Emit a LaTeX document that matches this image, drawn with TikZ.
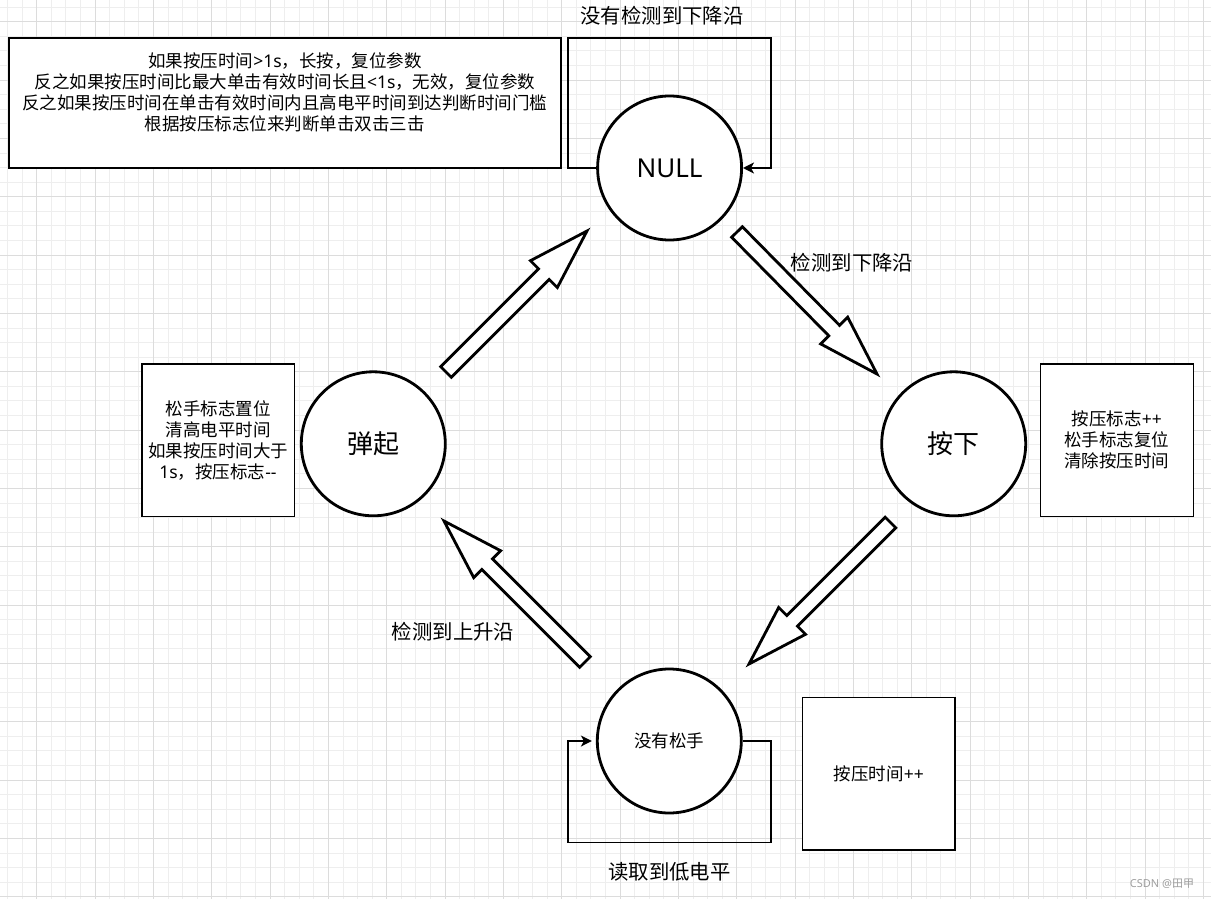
\documentclass[tikz,border=0pt]{standalone}
\usepackage{fontspec}
\setmainfont{Noto Sans CJK SC}
\newfontfamily\latf{Noto Sans}
\newcommand\lt[1]{{\latf #1}}
\usetikzlibrary{calc,arrows.meta}
\definecolor{gridminor}{HTML}{EEEEEE}
\definecolor{gridmajor}{HTML}{DCDCDC}
\newcommand\blockarrow[2]{%
  \coordinate (#1s) at ($(#2)!61pt!(#1)$);
  \draw[blk] ($(#1)!7.5pt!90:(#2)$) -- ($(#1s)!7.5pt!90:(#2)$) -- ($(#1s)!19pt!90:(#2)$) -- (#2)
    -- ($(#1s)!19pt!-90:(#2)$) -- ($(#1s)!7.5pt!-90:(#2)$) -- ($(#1)!7.5pt!-90:(#2)$) -- cycle;}
\begin{document}
\begin{tikzpicture}[x=1pt,y=-1pt,
  state/.style={circle,draw,line width=2.8pt,fill=white,minimum size=144pt,inner sep=0pt},
  note/.style={rectangle,draw,line width=1.5pt,fill=white,inner sep=0pt},
  small/.style={font=\fontsize{17.5}{21}\selectfont,align=center},
  lbl/.style={font=\fontsize{20.4}{24}\selectfont},
  big/.style={font=\fontsize{26}{31}\selectfont},
  conn/.style={line width=1.6pt,line join=miter,-{Stealth[length=11pt,width=11pt,inset=3pt]}},
  blk/.style={draw,line width=2.8pt,fill=white,line join=miter}]
\useasboundingbox (0,0) rectangle (1211,899);
\fill[white] (0,0) rectangle (1211,899);
% grid
\foreach \i in {-3,...,82} {\pgfmathsetmacro\gx{36.67+\i*14.5833}
  \draw[gridminor,line width=0.8pt] (\gx,0) -- (\gx,899);}
\foreach \i in {-2,...,61} {\pgfmathsetmacro\gy{21.67+\i*14.5833}
  \draw[gridminor,line width=0.8pt] (0,\gy) -- (1211,\gy);}
\foreach \i in {-1,...,20} {\pgfmathsetmacro\gx{36.67+\i*58.333}
  \draw[gridmajor,line width=0.8pt] (\gx,0) -- (\gx,899);}
\foreach \i in {-1,...,15} {\pgfmathsetmacro\gy{21.67+\i*58.333}
  \draw[gridmajor,line width=0.8pt] (0,\gy) -- (1211,\gy);}

% notes
\node[note,minimum width=552pt,minimum height=130pt] (topnote) at (285,103) {};
\node[small] (topnotetext) at (285,92.5) {如果按压时间\lt{>1s}，长按，复位参数\\反之如果按压时间比最大单击有效时间长且\lt{<1s}，无效，复位参数\\反之如果按压时间在单击有效时间内且高电平时间到达判断时间门槛\\根据按压标志位来判断单击双击三击};
\node[note,small,minimum width=152.5pt,minimum height=152.5pt] (leftnote) at (218,440.3) {松手标志置位\\清高电平时间\\如果按压时间大于\\\lt{1s}，按压标志\lt{-{}-}};
\node[note,small,minimum width=153pt,minimum height=152.5pt] (rightnote) at (1116.8,440.3) {按压标志\lt{++}\\松手标志复位\\清除按压时间};
\node[note,small,minimum width=152.5pt,minimum height=152.5pt] (timenote) at (878.8,773.8) {按压时间\lt{++}};

% loops
\coordinate (ntl) at (568,38);
\coordinate (ntr) at (771,38);
\coordinate (sbr) at (771,842.5);
\coordinate (sbl) at (568,842.5);

% states
\node[state,big] (null) at (669.6,168) {\lt{NULL}};
\node[state,big] (press) at (953.7,443.8) {按下};
\node[state,big] (release) at (373.3,443.8) {弹起};
\node[state,small] (hold) at (669.3,741) {没有松手};

\draw[conn] (null.west) -| (ntl) -| (ntr) |- (null.east);
\draw[conn,shorten >=4pt] (hold.east) -| (sbr) -| (sbl) |- (hold.west);

% block arrows
\coordinate (a1t) at (446,372);   \coordinate (a1h) at (587,231);
\coordinate (a2t) at (737,232);   \coordinate (a2h) at (877,374);
\coordinate (a3t) at (890.5,522.5); \coordinate (a3h) at (749,664);
\coordinate (a4t) at (585,662);   \coordinate (a4h) at (444,521);
\blockarrow{a1t}{a1h}
\blockarrow{a2t}{a2h}
\blockarrow{a3t}{a3h}
\blockarrow{a4t}{a4h}

% labels
\node[lbl] (lab1) at (662,16) {没有检测到下降沿};
\node[lbl] (lab2) at (852,263) {检测到下降沿};
\node[lbl] (lab3) at (453,632) {检测到上升沿};
\node[lbl] (lab4) at (669.5,872) {读取到低电平};
\node[font=\fontsize{11}{13}\selectfont,text=gray!75] (wm) at (1162,884) {\lt{CSDN @}田甲};
\end{tikzpicture}
\end{document}
